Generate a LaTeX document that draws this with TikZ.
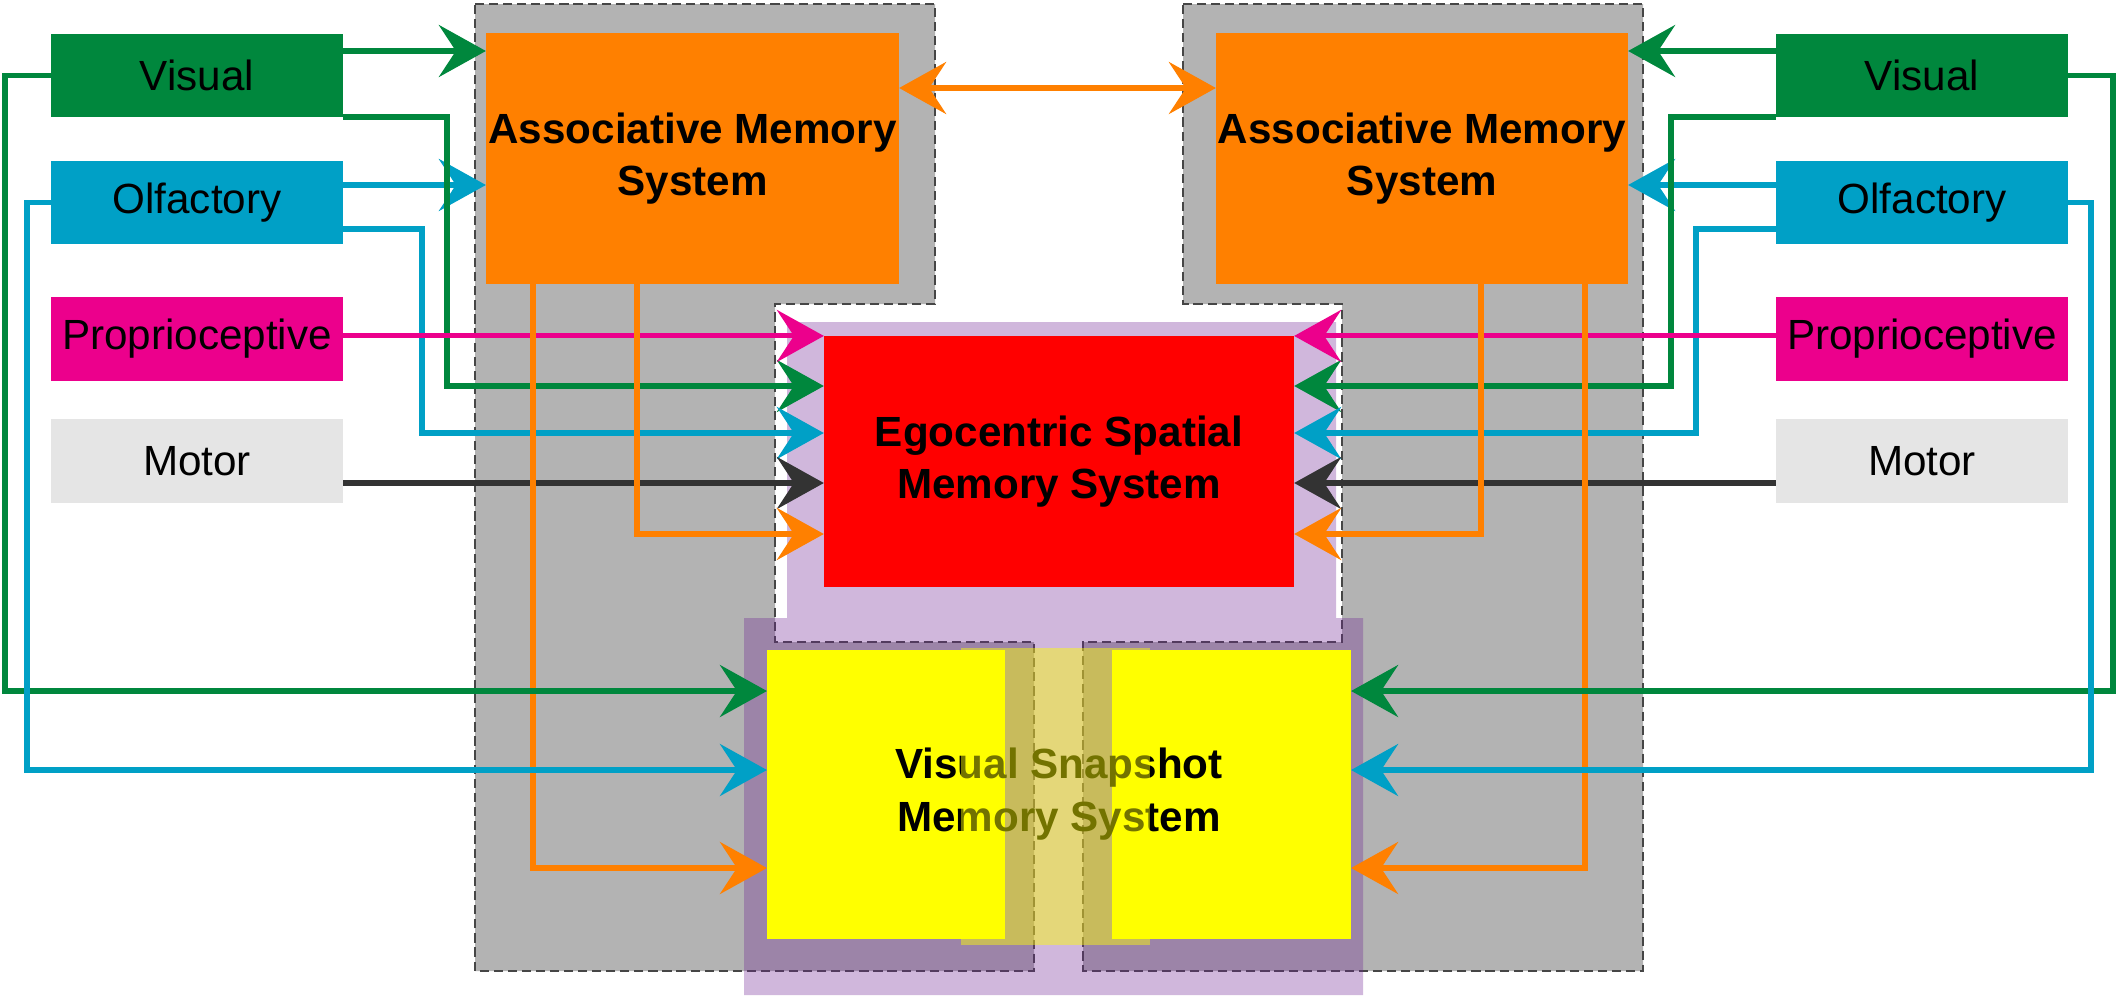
\documentclass[tikz,border=0pt]{standalone}
\usepackage{fontspec}
\setmainfont{Liberation Sans}
\usetikzlibrary{arrows.meta}

\definecolor{vgreen}{RGB}{0,135,61}
\definecolor{ocyan}{RGB}{0,160,198}
\definecolor{ppink}{RGB}{236,0,140}
\definecolor{mgrey}{RGB}{229,229,229}
\definecolor{mline}{RGB}{51,51,51}
\definecolor{aorange}{RGB}{255,128,0}
\definecolor{pgrey}{RGB}{179,179,179}
\definecolor{pdash}{RGB}{70,70,70}
\definecolor{lilac}{RGB}{111,37,148}
\definecolor{snapyellow}{RGB}{255,255,0}

\begin{document}
\begin{tikzpicture}
[x=0.01cm,y=-0.01cm,>={Stealth[length=4.7mm,width=5.2mm,inset=1.7mm]},
 every node/.style={inner sep=0pt,outer sep=0pt,align=center},
 sense/.style={minimum width=2.92cm,minimum height=0.83cm,font=\fontsize{12}{14}\selectfont},
 memory/.style={font=\bfseries\fontsize{12}{15}\selectfont},
 panel/.style={fill=pgrey,draw=pdash,line width=0.8pt,dash pattern=on 2.6pt off 1.4pt},
 conn/.style={line width=1.45pt,->}]

  \useasboundingbox (0,0) rectangle (2119,1000);

  % hemispheres
  \draw[panel] (475,4) -- (935,4) -- (935,304) -- (775,304) -- (775,642) -- (1034,642)
    -- (1034,971) -- (475,971) -- cycle;
  \draw[panel] (1183,4) -- (1643,4) -- (1643,971) -- (1083,971) -- (1083,642) -- (1342,642)
    -- (1342,304) -- (1183,304) -- cycle;
  \fill[lilac,fill opacity=0.33] (787,322) -- (1336,322) -- (1336,618) -- (1363,618)
    -- (1363,995) -- (744,995) -- (744,618) -- (787,618) -- cycle;

  % inputs
  \node[sense,fill=vgreen] (visL) at (197,75.5) {Visual};
  \node[sense,fill=ocyan] (olfL) at (197,202.5) {Olfactory};
  \node[sense,fill=ppink] (proL) at (197,339) {Proprioceptive};
  \node[sense,fill=mgrey] (motL) at (197,461) {Motor};
  \node[sense,fill=vgreen] (visR) at (1922,75.5) {Visual};
  \node[sense,fill=ocyan] (olfR) at (1922,202.5) {Olfactory};
  \node[sense,fill=ppink] (proR) at (1922,339) {Proprioceptive};
  \node[sense,fill=mgrey] (motR) at (1922,461) {Motor};

  % memory systems
  \node[memory,fill=aorange,minimum width=4.13cm,minimum height=2.51cm] (amsL) at (692.5,158.5) {Associative Memory\\System};
  \node[memory,fill=aorange,minimum width=4.12cm,minimum height=2.51cm] (amsR) at (1422,158.5) {Associative Memory\\System};
  \node[memory,fill=red,minimum width=4.7cm,minimum height=2.51cm] (esms) at (1059,461.5) {Egocentric Spatial\\Memory System};
  \node[fill=snapyellow,minimum width=2.38cm,minimum height=2.89cm] (vsL) at (886,794.5) {};
  \node[fill=snapyellow,minimum width=2.39cm,minimum height=2.89cm] (vsR) at (1231.5,794.5) {};
  \node[memory] (vsText) at (1059,794) {Visual Snapshot\\Memory System};

  \coordinate (v1) at (0,51);
  \coordinate (o1) at (0,185);
  \coordinate (o2) at (0,229);
  \coordinate (m1) at (0,483);
  \coordinate (a1) at (0,88);
  \coordinate (gL) at (447,386);
  \coordinate (cL) at (422,433);
  \coordinate (oEL) at (637,534);
  \coordinate (oVL) at (533,868);
  \coordinate (gOutL) at (5,691);
  \coordinate (cOutL) at (27,770);
  \coordinate (gR) at (1671,386);
  \coordinate (cR) at (1696,433);
  \coordinate (oER) at (1481,534);
  \coordinate (oVR) at (1585,868);
  \coordinate (gOutR) at (2113,691);
  \coordinate (cOutR) at (2091,770);

  % left side
  \draw[conn,vgreen] (visL.east |- v1) -- (amsL.west |- v1);
  \draw[conn,ocyan] (olfL.east |- o1) -- (amsL.west |- o1);
  \draw[conn,vgreen] (visL.south east) -| (gL) -- (esms.west |- gL);
  \draw[conn,ocyan] (olfL.east |- o2) -| (cL) -- (esms.west |- cL);
  \draw[conn,ppink] (proL.east |- esms.north) -- (esms.north west);
  \draw[conn,mline] (motL.east |- m1) -- (esms.west |- m1);
  \draw[conn,aorange] (amsL.south -| oEL) |- (esms.west |- oEL);
  \draw[conn,aorange] (amsL.south -| oVL) |- (vsL.west |- oVL);
  \draw[conn,vgreen] (visL.west) -| (gOutL) -- (vsL.west |- gOutL);
  \draw[conn,ocyan] (olfL.west) -| (cOutL) -- (vsL.west |- cOutL);

  % right side
  \draw[conn,vgreen] (visR.west |- v1) -- (amsR.east |- v1);
  \draw[conn,ocyan] (olfR.west |- o1) -- (amsR.east |- o1);
  \draw[conn,vgreen] (visR.south west) -| (gR) -- (esms.east |- gR);
  \draw[conn,ocyan] (olfR.west |- o2) -| (cR) -- (esms.east |- cR);
  \draw[conn,ppink] (proR.west |- esms.north) -- (esms.north east);
  \draw[conn,mline] (motR.west |- m1) -- (esms.east |- m1);
  \draw[conn,aorange] (amsR.south -| oER) |- (esms.east |- oER);
  \draw[conn,aorange] (amsR.south -| oVR) |- (vsR.east |- oVR);
  \draw[conn,vgreen] (visR.east) -| (gOutR) -- (vsR.east |- gOutR);
  \draw[conn,ocyan] (olfR.east) -| (cOutR) -- (vsR.east |- cOutR);

  \draw[conn,aorange,<->] (amsL.east |- a1) -- (amsR.west |- a1);

  % overlap band
  \fill[snapyellow,fill opacity=0.45] (961,648) rectangle (1150,945);

\end{tikzpicture}
\end{document}
